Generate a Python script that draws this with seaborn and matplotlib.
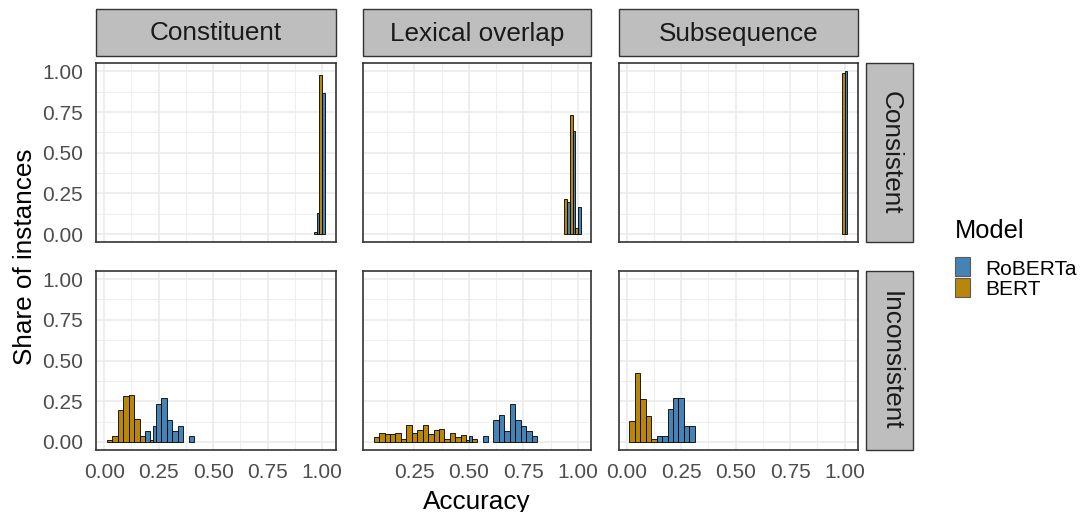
import numpy as np
import pandas as pd
import matplotlib
matplotlib.use("Agg")
import matplotlib.pyplot as plt
import seaborn as sns
from matplotlib.patches import Rectangle
from matplotlib.ticker import MultipleLocator, FormatStrFormatter

# ---------------- data (bin centre accuracy, share of instances) ----------------
BIN_WIDTH = 0.025

heuristics = ["Constituent", "Lexical overlap", "Subsequence"]
consistency = ["Consistent", "Inconsistent"]
legend_models = ["RoBERTa", "BERT"]
dodge_models = ["BERT", "RoBERTa"]

# Constituent / Consistent
con_cons_bert_acc = [0.975, 1.000]
con_cons_bert_share = [0.012, 0.981]
con_cons_rob_acc = [0.975, 1.000]
con_cons_rob_share = [0.133, 0.867]

# Lexical overlap / Consistent
lex_cons_bert_acc = [0.950, 0.975, 1.000]
lex_cons_bert_share = [0.219, 0.731, 0.037]
lex_cons_rob_acc = [0.950, 0.975, 1.000]
lex_cons_rob_share = [0.200, 0.633, 0.167]

# Subsequence / Consistent
sub_cons_bert_acc = [1.000]
sub_cons_bert_share = [0.990]
sub_cons_rob_acc = [1.000]
sub_cons_rob_share = [1.000]

# Constituent / Inconsistent
con_inc_bert_acc = [0.025, 0.050, 0.075, 0.100, 0.125, 0.150, 0.175, 0.225]
con_inc_bert_share = [0.012, 0.033, 0.198, 0.280, 0.288, 0.141, 0.033, 0.012]
con_inc_rob_acc = [0.200, 0.225, 0.250, 0.275, 0.300, 0.325, 0.350, 0.400]
con_inc_rob_share = [0.067, 0.100, 0.233, 0.267, 0.133, 0.067, 0.100, 0.033]

# Lexical overlap / Inconsistent
lex_inc_bert_acc = [0.075, 0.100, 0.125, 0.150, 0.175, 0.200, 0.225, 0.250, 0.275,
                    0.300, 0.325, 0.350, 0.375, 0.400, 0.425, 0.450, 0.475, 0.500, 0.525]
lex_inc_bert_share = [0.031, 0.057, 0.049, 0.049, 0.057, 0.018, 0.102, 0.057, 0.070,
                      0.102, 0.049, 0.070, 0.078, 0.018, 0.057, 0.031, 0.041, 0.012, 0.018]
lex_inc_rob_acc = [0.500, 0.575, 0.625, 0.650, 0.675, 0.700, 0.725, 0.750, 0.775, 0.800]
lex_inc_rob_share = [0.033, 0.033, 0.133, 0.167, 0.067, 0.233, 0.133, 0.100, 0.067, 0.033]

# Subsequence / Inconsistent
sub_inc_bert_acc = [0.025, 0.050, 0.075, 0.100, 0.125]
sub_inc_bert_share = [0.129, 0.421, 0.262, 0.160, 0.018]
sub_inc_rob_acc = [0.150, 0.175, 0.200, 0.225, 0.250, 0.275, 0.300]
sub_inc_rob_share = [0.033, 0.033, 0.200, 0.267, 0.267, 0.100, 0.100]

colors = {"RoBERTa": "#4682B4", "BERT": "#B8860B"}

# ---------------- long table ----------------
rows = []
def add(h, c, m, accs, shares):
    for a, s in zip(accs, shares):
        rows.append({"heuristic": h, "consistency": c, "model": m, "acc": a, "share": s})

add("Constituent", "Consistent", "BERT", con_cons_bert_acc, con_cons_bert_share)
add("Constituent", "Consistent", "RoBERTa", con_cons_rob_acc, con_cons_rob_share)
add("Lexical overlap", "Consistent", "BERT", lex_cons_bert_acc, lex_cons_bert_share)
add("Lexical overlap", "Consistent", "RoBERTa", lex_cons_rob_acc, lex_cons_rob_share)
add("Subsequence", "Consistent", "BERT", sub_cons_bert_acc, sub_cons_bert_share)
add("Subsequence", "Consistent", "RoBERTa", sub_cons_rob_acc, sub_cons_rob_share)
add("Constituent", "Inconsistent", "BERT", con_inc_bert_acc, con_inc_bert_share)
add("Constituent", "Inconsistent", "RoBERTa", con_inc_rob_acc, con_inc_rob_share)
add("Lexical overlap", "Inconsistent", "BERT", lex_inc_bert_acc, lex_inc_bert_share)
add("Lexical overlap", "Inconsistent", "RoBERTa", lex_inc_rob_acc, lex_inc_rob_share)
add("Subsequence", "Inconsistent", "BERT", sub_inc_bert_acc, sub_inc_bert_share)
add("Subsequence", "Inconsistent", "RoBERTa", sub_inc_rob_acc, sub_inc_rob_share)
df = pd.DataFrame(rows)

# ---------------- theme ----------------
sns.set_theme(style="white")
plt.rcParams["font.family"] = ["Liberation Sans", "DejaVu Sans"]

W, H, DPI = 1083, 512, 100

# free x scales per column with space proportional to range (5% expansion)
xlims = {}
for h in heuristics:
    a = df.loc[df.heuristic == h, "acc"]
    lo, hi = a.min() - BIN_WIDTH / 2, a.max() + BIN_WIDTH / 2
    pad = 0.05 * (hi - lo)
    xlims[h] = (lo - pad, hi + pad)
ratios = [xlims[h][1] - xlims[h][0] for h in heuristics]


def dodge_bars(data, **kws):
    ax = plt.gca()
    for acc, grp in data.groupby("acc"):
        present = [m for m in dodge_models if m in set(grp["model"])]
        w = BIN_WIDTH / len(present)
        for i, m in enumerate(present):
            share = grp.loc[grp["model"] == m, "share"].iloc[0]
            ax.bar(acc - BIN_WIDTH / 2 + i * w, share, width=w, align="edge",
                   color=colors[m], edgecolor="black", linewidth=0.6, zorder=3)


g = sns.FacetGrid(df, row="consistency", col="heuristic",
                  row_order=consistency, col_order=heuristics,
                  sharex=False, sharey=True, despine=False,
                  gridspec_kws={"width_ratios": ratios})
g.map_dataframe(dodge_bars)

fig = g.figure
fig.set_size_inches(W / DPI, H / DPI)
fig.set_dpi(DPI)

left, right = 96 / W, 858.3 / W
top, bottom = 1 - 63.3 / H, 1 - 450 / H
avg_w = (858.3 - 96 - 2 * 27.5) / 3
fig.subplots_adjust(left=left, right=right, top=top, bottom=bottom,
                    wspace=27.5 / avg_w, hspace=28.7 / 179)

for (r, c), ax in np.ndenumerate(g.axes):
    h = heuristics[c]
    ax.set_title("")
    ax.set_xlabel("")
    ax.set_ylabel("")
    ax.set_xlim(*xlims[h])
    ax.set_ylim(-0.05, 1.05)
    ax.xaxis.set_major_locator(MultipleLocator(0.25))
    ax.xaxis.set_minor_locator(MultipleLocator(0.125))
    ax.yaxis.set_major_locator(MultipleLocator(0.25))
    ax.yaxis.set_minor_locator(MultipleLocator(0.125))
    ax.xaxis.set_major_formatter(FormatStrFormatter("%.2f"))
    ax.yaxis.set_major_formatter(FormatStrFormatter("%.2f"))
    ax.set_axisbelow(True)
    ax.grid(which="major", color="#EBEBEB", linewidth=1.2)
    ax.grid(which="minor", color="#EBEBEB", linewidth=0.6)
    ax.tick_params(which="both", length=0, labelsize=15, labelcolor="#4D4D4D")
    ax.tick_params(axis="y", pad=9.5)
    ax.tick_params(axis="x", pad=9.5)
    if r == 0:
        ax.tick_params(labelbottom=False)
    if c > 0:
        ax.tick_params(labelleft=False)
    for sp in ax.spines.values():
        sp.set_visible(True)
        sp.set_color("#333333")
        sp.set_linewidth(1.2)
    ax.set_facecolor("white")

    pos = ax.get_position()
    # top strips
    if r == 0:
        y0 = pos.y1 + 7.3 / H
        fig.add_artist(Rectangle((pos.x0, y0), pos.width, 47 / H, transform=fig.transFigure,
                                 facecolor="#BEBEBE", edgecolor="#333333", linewidth=1.0))
        fig.text(pos.x0 + pos.width / 2, y0 + 22.5 / H, h, ha="center", va="center",
                 fontsize=18.8, color="#1A1A1A")
    # right strips
    if c == 2:
        x0 = pos.x1 + 7.7 / W
        fig.add_artist(Rectangle((x0, pos.y0), 47.3 / W, pos.height, transform=fig.transFigure,
                                 facecolor="#BEBEBE", edgecolor="#333333", linewidth=1.0))
        fig.text(x0 + 24.5 / W, pos.y0 + pos.height / 2, consistency[r], ha="center",
                 va="center", rotation=-90, fontsize=18.8, color="#1A1A1A")

# axis titles
fig.text((96 + 858.3) / 2 / W, 1 - 509 / H, "Accuracy", ha="center", va="baseline",
         fontsize=18.8, color="black")
fig.text(25 / W, 1 - 256.6 / H, "Share of instances", ha="center", va="center",
         rotation=90, fontsize=18.8, color="black")

# legend
fig.text(955 / W, 1 - 238.3 / H, "Model", ha="left", va="baseline", fontsize=18.3, color="black")
key_tops = [256.7, 277.7]
label_base = [275.0, 295.0]
for m, kt, lb in zip(legend_models, key_tops, label_base):
    fig.add_artist(Rectangle((955 / W, 1 - (kt + 19) / H), 15 / W, 19 / H, transform=fig.transFigure,
                             facecolor=colors[m], edgecolor="#5A5A5A", linewidth=0.8))
    fig.text(985 / W, 1 - lb / H, m, ha="left", va="baseline", fontsize=15, color="black")

fig.savefig("out.png", dpi=DPI)
